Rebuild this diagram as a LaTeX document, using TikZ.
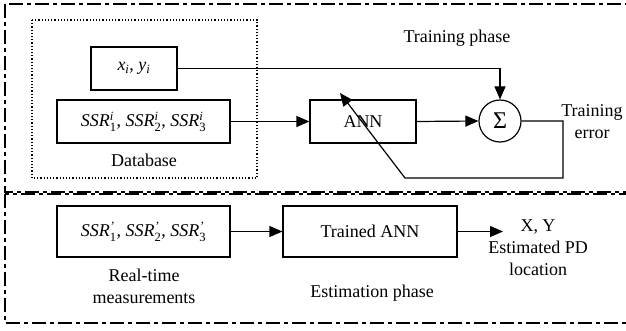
\documentclass[tikz,border=0pt]{standalone}
\usepackage{amsmath}
\usepackage{fontspec}
\setmainfont{Liberation Serif}
\usetikzlibrary{arrows.meta}

\newcommand{\ssr}[2]{\textit{SSR}\ensuremath{^{\textit{#2}}_{\textrm{#1}}}}

\begin{document}
\begin{tikzpicture}[x=1pt,y=-1pt,>={Triangle[length=13pt,width=11pt]},line width=1.2pt,
  font=\fontsize{18}{22}\selectfont,
  box/.style={draw,rectangle,inner sep=0pt},
  sumnode/.style={draw,circle,minimum size=42pt,inner sep=0pt,font=\fontsize{24}{24}\selectfont},
  frame/.style={line width=1.2pt,dash pattern=on 14pt off 4pt on 4pt off 4pt},
  lbl/.style={align=center,inner sep=0pt}]

\useasboundingbox (0,0) rectangle (626,331);

% phases
\draw[frame] (5,4) rectangle (632,192);
\draw[frame] (5,194) rectangle (632,323);
\draw[dotted,line width=1.2pt] (32,20) rectangle (257,178);

\node[box,minimum width=86pt,minimum height=43pt]   (xy)   at (134,68.5)  {\textit{x}\ensuremath{_{\textit{i}}}, \textit{y}\ensuremath{_{\textit{i}}}};
\node[box,minimum width=173pt,minimum height=43pt]  (ssr)  at (143.5,121.5) {\ssr{1}{i}, \ssr{2}{i}, \ssr{3}{i}};
\node[box,minimum width=106pt,minimum height=43pt]  (ann)  at (363,121.5)  {ANN};
\node[sumnode]                                      (sum)  at (500,121)    {Σ};

\node[lbl] (db)     at (144,160) {Database};
\node[lbl] (tphase) at (457,38)  {Training phase};
\node[lbl] (terr)   at (592,122) {Training\\error};

\coordinate (c1) at (563,121);
\coordinate (c2) at (563,178);
\coordinate (c3) at (405,178);
\coordinate (c4) at (340,93);

\draw[->] (xy.east) -| (sum.north);
\draw[->] (ssr.east) -- (ann.west);
\draw[->] (ann.east) -- (sum.west);
\draw[->] (sum.east) -- (c1) -- (c2) -- (c3) -- (c4);

% estimation
\node[box,minimum width=173pt,minimum height=51pt] (ssrp) at (143.5,231.5) {\ssr{1}{'}, \ssr{2}{'}, \ssr{3}{'}};
\node[box,minimum width=174pt,minimum height=51pt] (tann) at (370,231.5)   {Trained ANN};
\coordinate (out) at (503,231.5);
\node[lbl] (xy2)   at (538,248) {X, Y\\Estimated PD\\location};
\node[lbl] (rtm)   at (144,286) {Real-time\\measurements};
\node[lbl] (ephase) at (372,293) {Estimation phase};

\draw[->] (ssrp.east) -- (tann.west);
\draw[->] (tann.east) -- (out);

\end{tikzpicture}
\end{document}
